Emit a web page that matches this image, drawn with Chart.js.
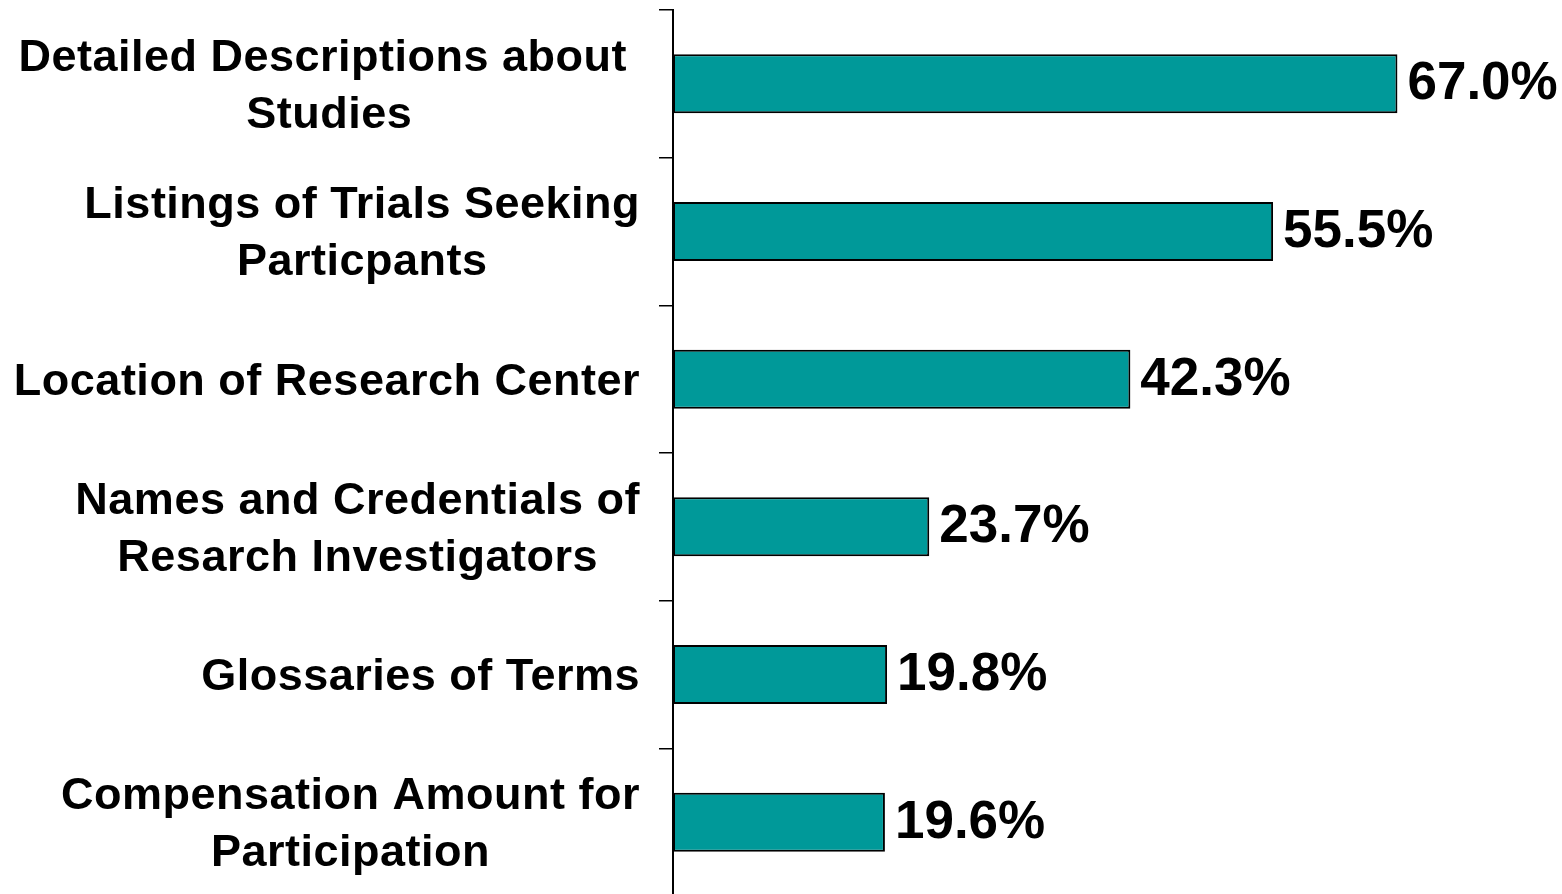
<!DOCTYPE html>
<html>
<head>
<meta charset="utf-8">
<script src="https://cdn.jsdelivr.net/npm/chart.js@4"></script>
<style>
  html, body { margin: 0; padding: 0; overflow: hidden; background: #fff; }
  #wrap { width: 1562px; height: 896px; }
</style>
</head>
<body>
<div id="wrap"><canvas id="chart"></canvas></div>
<script>
// categories, one entry per bar, split into the lines shown
const categories = [
    ["Detailed Descriptions about ", "Studies"],
    ["Listings of Trials Seeking", "Particpants"],
    ["Location of Research Center"],
    ["Names and Credentials of", "Resarch Investigators"],
    ["Glossaries of Terms"],
    ["Compensation Amount for", "Participation"],
];
const values = [67.0, 55.5, 42.3, 23.7, 19.8, 19.6];
const xMax = 80;

const AXIS_X = 673;
const LABEL_FONT = "bold 45px 'Liberation Sans', Arial, sans-serif";
const VALUE_FONT = "bold 53px 'Liberation Sans', Arial, sans-serif";

// category labels: block right-aligned against the axis, lines centred in the block
const labelPlugin = {
    id: "labels",
    afterDraw(chart) {
        const ctx = chart.ctx;
        const yScale = chart.scales.y;
        ctx.save();
        ctx.font = LABEL_FONT;
        ctx.letterSpacing = "0.5px";
        ctx.fillStyle = "#000";
        ctx.textAlign = "center";
        ctx.textBaseline = "middle";
        const lineH = 57;
        categories.forEach((lines, i) => {
            const w = Math.max(...lines.map((l) => ctx.measureText(l).width));
            const cx = AXIS_X - 33 - w / 2;
            const cy = yScale.getPixelForValue(i) + 3;
            lines.forEach((l, j) => {
                ctx.fillText(l, cx, cy + (j - (lines.length - 1) / 2) * lineH);
            });
        });

        // value labels at the end of each bar
        ctx.font = VALUE_FONT;
        ctx.letterSpacing = "0px";
        ctx.textAlign = "left";
        const meta = chart.getDatasetMeta(0);
        meta.data.forEach((bar, i) => {
            ctx.fillText(values[i].toFixed(1) + "%", bar.x + 10, bar.y + 1);
        });
        ctx.restore();
    },
};

new Chart(document.getElementById("chart"), {
    type: "bar",
    data: {
        labels: categories,
        datasets: [
            {
                data: values,
                backgroundColor: "#009999",
                borderColor: "#000",
                borderWidth: 2,
                borderSkipped: false,
                barPercentage: 0.4,
                categoryPercentage: 1,
            },
        ],
    },
    options: {
        indexAxis: "y",
        responsive: true,
        maintainAspectRatio: false,
        animation: false,
        layout: { padding: { top: 10, right: 24, bottom: 0, left: 0 } },
        plugins: {
            legend: { display: false },
            tooltip: { enabled: false },
        },
        scales: {
            x: { display: false, min: 0, max: xMax },
            y: {
                ticks: { display: false },
                grid: {
                    drawOnChartArea: false,
                    drawTicks: true,
                    tickLength: 14,
                    color: "#000",
                    lineWidth: 1.5,
                },
                border: { color: "#000", width: 2 },
                afterFit(scale) {
                    scale.width = AXIS_X;
                },
            },
        },
    },
    plugins: [labelPlugin],
});
</script>
</body>
</html>
